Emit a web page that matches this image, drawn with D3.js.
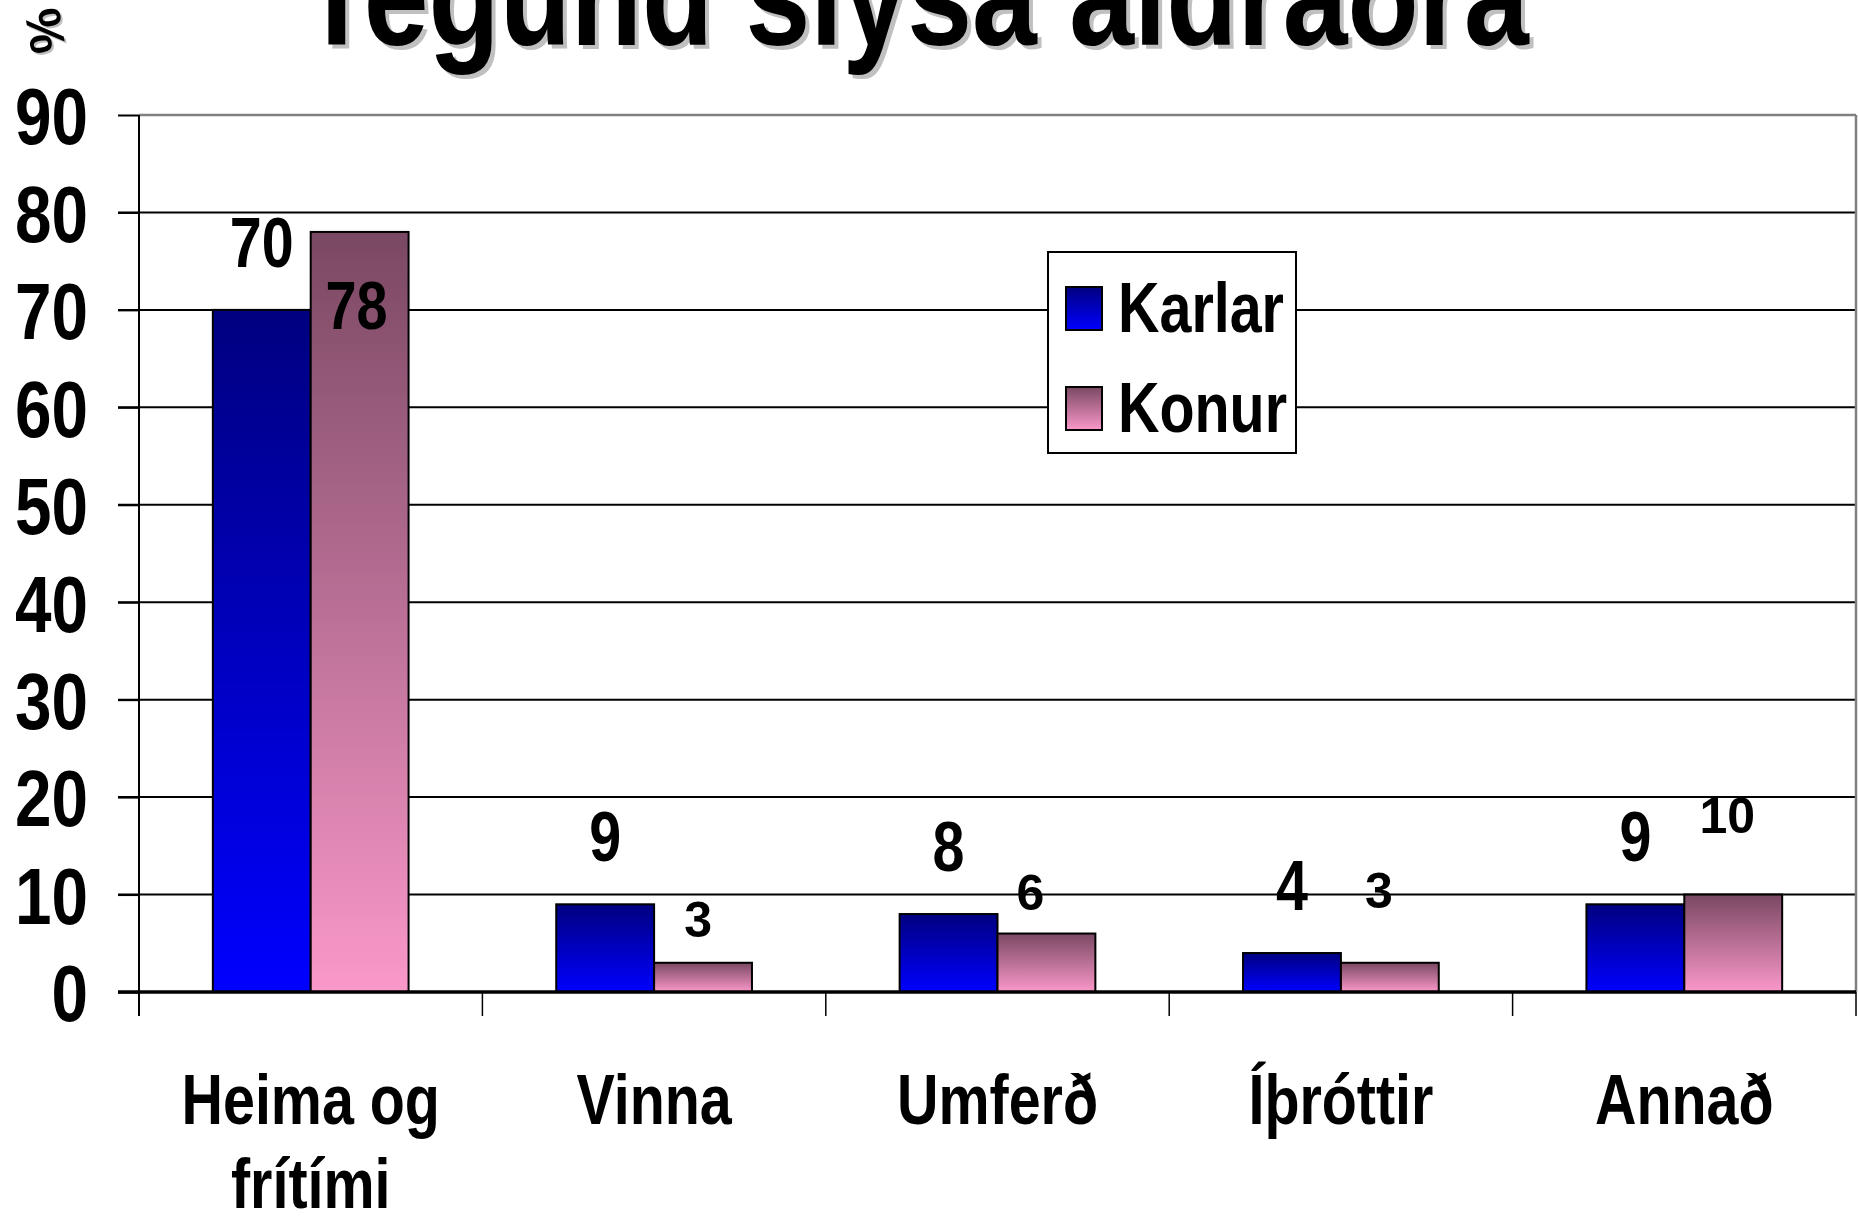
<!DOCTYPE html>
<html>
<head>
<meta charset="utf-8">
<script src="https://cdn.jsdelivr.net/npm/d3@7"></script>
<style>
  html, body { margin: 0; padding: 0; background: #fff; }
  svg { display: block; }
</style>
</head>
<body>
<svg id="chart" width="1858" height="1220"></svg>
<script>
// ---- data ----
const title = "Tegund slysa aldraðra";
const unitLabel = "%";
const categories = ["Heima og\nfrítími", "Vinna", "Umferð", "Íþróttir", "Annað"];
const seriesNames = ["Karlar", "Konur"];
const karlar = [70, 9, 8, 4, 9];
const konur = [78, 3, 6, 3, 10];
const yTicks = [0, 10, 20, 30, 40, 50, 60, 70, 80, 90];

// ---- label placement (layout only) ----
const karlarLabelDy = [-43, -43, -43, -43, -43];
const konurLabelDy = [97, -26, -24, -55, -62];
const konurLabelDx = [-3, -5, -16, -11, -6];
const konurLabelBig = [true, false, false, false, false];

const REG = "'Liberation Sans', Arial, sans-serif";

const svg = d3.select("#chart");
const plot = { left: 139, right: 1856, top: 115, bottom: 992 };

const x = d3.scaleBand().domain(categories).range([plot.left, plot.right]).paddingInner(0.43).paddingOuter(0.215);
const xs = d3.scaleBand().domain(seriesNames).range([0, x.bandwidth()]).padding(0);
const y = d3.scaleLinear().domain([0, 90]).range([plot.bottom, plot.top]);

// gradients
const defs = svg.append("defs");
const gK = defs.append("linearGradient").attr("id", "gKarlar").attr("x1", 0).attr("y1", 0).attr("x2", 0).attr("y2", 1);
gK.append("stop").attr("offset", "0%").attr("stop-color", "#000080");
gK.append("stop").attr("offset", "100%").attr("stop-color", "#0000ff");
const gW = defs.append("linearGradient").attr("id", "gKonur").attr("x1", 0).attr("y1", 0).attr("x2", 0).attr("y2", 1);
gW.append("stop").attr("offset", "0%").attr("stop-color", "#7a4862");
gW.append("stop").attr("offset", "100%").attr("stop-color", "#fa98ca");
const fills = { Karlar: "url(#gKarlar)", Konur: "url(#gKonur)" };

// narrow font detection (compare against monospace fallback)
function narrowAvailable() {
  const t1 = svg.append("text").attr("font-family", "'Liberation Sans Narrow', monospace").attr("font-size", 100).text("Heima og frítími");
  const t2 = svg.append("text").attr("font-family", "monospace").attr("font-size", 100).text("Heima og frítími");
  const a = t1.node().getComputedTextLength(), b = t2.node().getComputedTextLength();
  t1.remove(); t2.remove();
  return Math.abs(a - b) > 1;
}
const hasNarrow = narrowAvailable();
function narrowify(sel) {
  sel.attr("font-weight", "bold");
  if (hasNarrow) {
    sel.attr("font-family", "'Liberation Sans Narrow', sans-serif");
  } else {
    sel.attr("font-family", REG);
    sel.each(function () {
      const n = d3.select(this);
      const tspans = n.selectAll("tspan");
      const targets = tspans.empty() ? [this] : tspans.nodes();
      targets.forEach(t => {
        const L = t.getComputedTextLength();
        d3.select(t).attr("textLength", L * 0.82).attr("lengthAdjust", "spacingAndGlyphs");
      });
    });
  }
  return sel;
}

// title with shadow
[["#c0c0c0", 4, 4], ["#000", 0, 0]].forEach(([c, dx, dy]) => {
  narrowify(svg.append("text")
    .attr("x", 915 + dx).attr("y", 45 + dy)
    .attr("text-anchor", "middle")
    .attr("font-size", 142)
    .attr("fill", c)
    .text(title));
});

// % unit with shadow, rotated
[["#c0c0c0", 2, 2], ["#000", 0, 0]].forEach(([c, dx, dy]) => {
  svg.append("text")
    .attr("transform", `translate(${45 + dx},${31 + dy}) rotate(80)`)
    .attr("text-anchor", "middle")
    .attr("dominant-baseline", "central")
    .attr("font-family", REG).attr("font-weight", "bold")
    .attr("font-size", 50)
    .attr("fill", c)
    .text(unitLabel);
});

// gridlines
svg.append("g").selectAll("line").data(yTicks.filter(d => d > 0 && d < 90)).join("line")
  .attr("x1", 118).attr("x2", plot.right)
  .attr("y1", d => y(d)).attr("y2", d => y(d))
  .attr("stroke", "#000").attr("stroke-width", 2);
// plot border top + right (gray)
svg.append("line").attr("x1", plot.left).attr("x2", plot.right).attr("y1", y(90)).attr("y2", y(90))
  .attr("stroke", "#808080").attr("stroke-width", 2.5);
svg.append("line").attr("x1", plot.right).attr("x2", plot.right).attr("y1", y(90)).attr("y2", y(0))
  .attr("stroke", "#808080").attr("stroke-width", 2.5);

// y axis
const yAxis = svg.append("g").attr("transform", `translate(${plot.left},0)`)
  .call(d3.axisLeft(y).tickValues(yTicks).tickSizeInner(21).tickSizeOuter(0).tickPadding(30));
yAxis.select(".domain").remove();
yAxis.selectAll(".tick line").attr("stroke", "#000").attr("stroke-width", 2);
narrowify(yAxis.selectAll(".tick text").attr("font-size", 80).attr("fill", "#000").attr("dy", "0.36em"));
svg.append("line").attr("x1", plot.left).attr("x2", plot.left).attr("y1", y(90)).attr("y2", plot.bottom + 24)
  .attr("stroke", "#000").attr("stroke-width", 2);

// bars
const groups = svg.append("g").selectAll("g").data(categories).join("g")
  .attr("transform", d => `translate(${x(d)},0)`);
groups.selectAll("rect").data((d, i) => [
  { s: "Karlar", v: karlar[i] },
  { s: "Konur", v: konur[i] }
]).join("rect")
  .attr("x", d => xs(d.s))
  .attr("y", d => y(d.v))
  .attr("width", xs.bandwidth())
  .attr("height", d => y(0) - y(d.v))
  .attr("fill", d => fills[d.s])
  .attr("stroke", "#000").attr("stroke-width", 2);

// zero line + x ticks at band boundaries
svg.append("line").attr("x1", 118).attr("x2", plot.right).attr("y1", y(0)).attr("y2", y(0))
  .attr("stroke", "#000").attr("stroke-width", 3.5);
const bounds = d3.range(categories.length + 1).map(i => x.range()[0] + i * x.step());
svg.append("g").selectAll("line").data(bounds).join("line")
  .attr("x1", d => d).attr("x2", d => d)
  .attr("y1", y(0)).attr("y2", y(0) + 24)
  .attr("stroke", "#000").attr("stroke-width", 1.5);

// category labels
const xAxis = svg.append("g").attr("transform", `translate(0,${y(0)})`)
  .call(d3.axisBottom(x).tickSize(0).tickPadding(0));
xAxis.select(".domain").remove();
xAxis.selectAll(".tick text").each(function (d) {
  const t = d3.select(this).text(null).attr("y", 0).attr("dy", null);
  d.split("\n").forEach((line, k) => {
    t.append("tspan").attr("x", 0).attr("y", 132 + k * 84).text(line);
  });
});
narrowify(xAxis.selectAll(".tick text").attr("font-size", 70).attr("fill", "#000").attr("text-anchor", "middle"));

// data labels
categories.forEach((c, i) => {
  narrowify(svg.append("text")
    .attr("x", x(c) + xs("Karlar") + xs.bandwidth() / 2)
    .attr("y", y(karlar[i]) + karlarLabelDy[i])
    .attr("text-anchor", "middle")
    .attr("font-size", 70)
    .text(karlar[i]));
  const t = svg.append("text")
    .attr("x", x(c) + xs("Konur") + xs.bandwidth() / 2 + konurLabelDx[i])
    .attr("y", y(konur[i]) + konurLabelDy[i])
    .attr("text-anchor", "middle")
    .text(konur[i]);
  if (konurLabelBig[i]) narrowify(t.attr("font-size", 68));
  else t.attr("font-family", REG).attr("font-weight", "bold").attr("font-size", 50);
});

// legend
const lg = svg.append("g");
lg.append("rect").attr("x", 1048).attr("y", 252).attr("width", 248).attr("height", 201)
  .attr("fill", "#fff").attr("stroke", "#000").attr("stroke-width", 2);
seriesNames.forEach((s, k) => {
  const yy = 287 + k * 100;
  lg.append("rect").attr("x", 1066).attr("y", yy).attr("width", 36).attr("height", 43)
    .attr("fill", fills[s]).attr("stroke", "#000").attr("stroke-width", 2);
  narrowify(lg.append("text").attr("x", 1118).attr("y", yy + 45)
    .attr("font-size", 70).text(s));
});
</script>
</body>
</html>
